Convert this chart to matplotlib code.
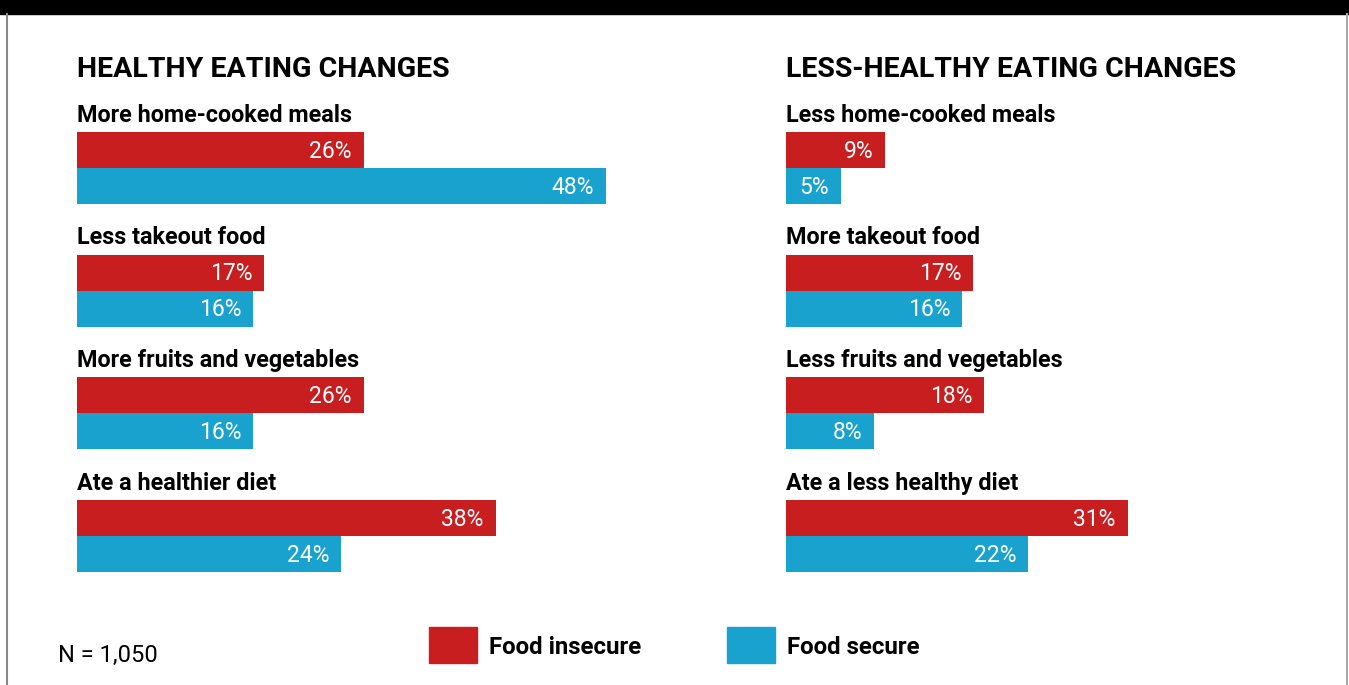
import matplotlib
matplotlib.use("Agg")
import matplotlib.pyplot as plt
from matplotlib.patches import Rectangle

plt.rcParams['font.family'] = ['Roboto', 'DejaVu Sans']

# Datos
healthy_labels = ['More home-cooked meals', 'Less takeout food',
                  'More fruits and vegetables', 'Ate a healthier diet']
healthy_insecure = [26, 17, 26, 38]
healthy_secure = [48, 16, 16, 24]

less_labels = ['Less home-cooked meals', 'More takeout food',
               'Less fruits and vegetables', 'Ate a less healthy diet']
less_insecure = [9, 17, 18, 31]
less_secure = [5, 16, 8, 22]

RED = '#C81E20'
BLUE = '#1AA2CE'

W, H = 1349, 685
PX_PER_PCT = 11.02
fig = plt.figure(figsize=(W / 100, H / 100), dpi=100)

# marco: banda negra arriba y bordes grises
fig.patches.append(Rectangle((0, 1 - 14 / H), 1, 14 / H, transform=fig.transFigure,
                             color='black', zorder=0))
fig.add_artist(plt.Line2D([7 / W, 7 / W], [0, 1 - 14 / H], color='#888888', lw=1.5))
fig.add_artist(plt.Line2D([1347 / W, 1347 / W], [0, 1 - 14 / H], color='#aaaaaa', lw=1.5))


def panel(x0, title, labels, insecure, secure):
    width_px = 600
    ax = fig.add_axes([x0 / W, 0, width_px / W, 1])
    ax.set_xlim(0, width_px / PX_PER_PCT)
    ax.set_ylim(H, 0)
    ax.axis('off')
    ax.text(0, 69, title, fontsize=20.5, fontweight='bold', va='center', ha='left')
    for i, lab in enumerate(labels):
        top = 132 + i * 122.7
        ax.text(0, top - 17, lab, fontsize=16.8, fontweight='bold', va='center', ha='left')
        ax.barh(top + 18, insecure[i], height=36, color=RED, align='center')
        ax.barh(top + 54, secure[i], height=36, color=BLUE, align='center')
        pad = 12 / PX_PER_PCT
        ax.text(insecure[i] - pad, top + 19, f'{insecure[i]}%', color='white',
                fontsize=16.5, va='center', ha='right')
        ax.text(secure[i] - pad, top + 55, f'{secure[i]}%', color='white',
                fontsize=16.5, va='center', ha='right')


panel(77, 'HEALTHY EATING CHANGES', healthy_labels, healthy_insecure, healthy_secure)
panel(786, 'LESS-HEALTHY EATING CHANGES', less_labels, less_insecure, less_secure)

# leyenda y nota
fig.patches.append(Rectangle((429 / W, 1 - 663 / H), 48 / W, 36 / H,
                             transform=fig.transFigure, color=RED))
fig.patches.append(Rectangle((727 / W, 1 - 663 / H), 48 / W, 36 / H,
                             transform=fig.transFigure, color=BLUE))
fig.text(489 / W, 1 - 647 / H, 'Food insecure', fontsize=17.3, fontweight='bold', va='center')
fig.text(787 / W, 1 - 647 / H, 'Food secure', fontsize=17.3, fontweight='bold', va='center')
fig.text(58 / W, 1 - 655 / H, 'N = 1,050', fontsize=17, va='center')

fig.savefig('out.png', dpi=100)
